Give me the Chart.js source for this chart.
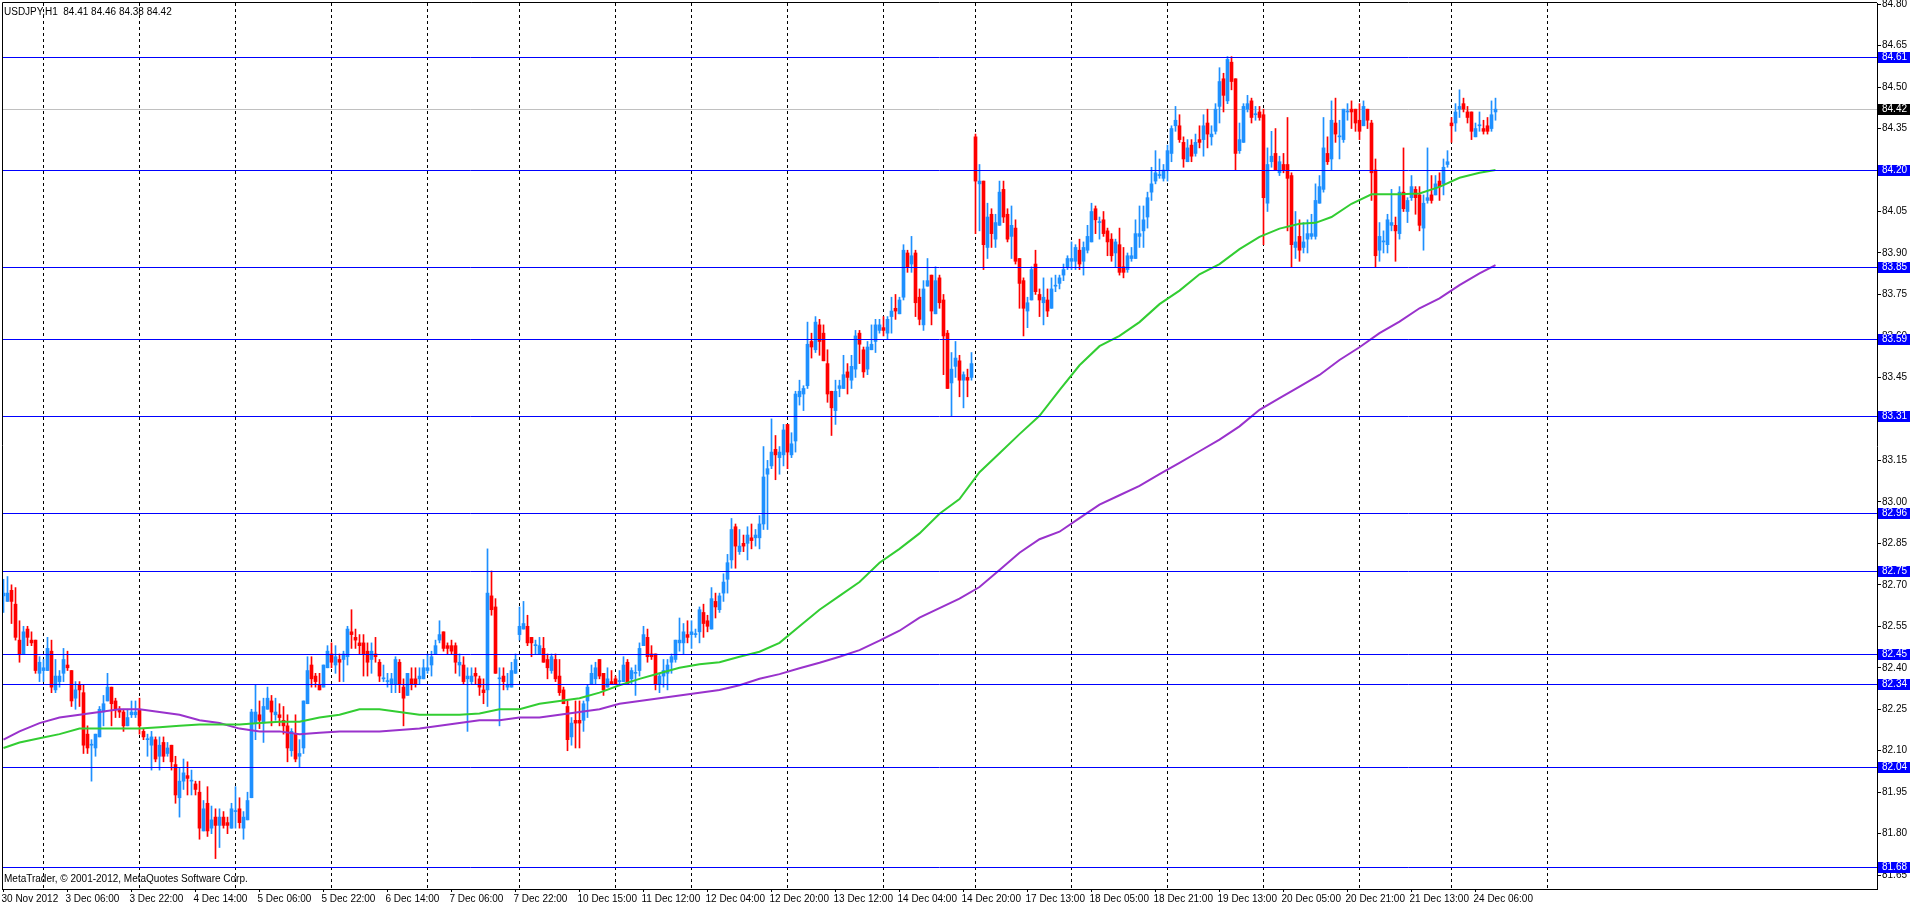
<!DOCTYPE html>
<html>
<head>
<meta charset="utf-8">
<script src="https://cdn.jsdelivr.net/npm/chart.js@4.4.1/dist/chart.umd.min.js"></script>
<style>
html,body{margin:0;padding:0;background:#fff;overflow:hidden}
canvas{display:block}
</style>
</head>
<body>
<canvas id="c" width="1914" height="906" style="width:1914px;height:906px"></canvas>
<script>
// ---------- DATA (USDJPY, H1) ----------
const symbolTitle = "USDJPY,H1  84.41 84.46 84.38 84.42";
const copyrightText = "MetaTrader, \u00A9 2001-2012, MetaQuotes Software Corp.";

const opens = [
82.66,82.64,82.68,82.63,82.50,82.45,82.54,82.50,82.50,82.38,
82.39,82.39,82.46,82.32,82.35,82.38,82.41,82.39,82.29,82.34,
82.31,82.16,82.12,82.11,82.15,82.24,82.28,82.33,82.28,82.25,
82.24,82.19,82.23,82.23,82.25,82.17,82.14,82.12,82.14,82.08,
82.13,82.09,82.12,82.05,81.93,81.99,82.01,81.99,81.98,81.95,
81.81,81.91,81.82,81.86,81.83,81.86,81.84,81.82,81.88,81.89,
81.82,81.85,81.93,82.20,82.23,82.20,82.25,82.28,82.23,82.23,
82.21,82.19,82.10,82.16,82.08,82.11,82.27,82.41,82.37,82.34,
82.33,82.40,82.45,82.41,82.43,82.43,82.44,82.53,82.51,82.49,
82.49,82.46,82.43,82.45,82.42,82.36,82.35,82.34,82.34,82.42,
82.33,82.30,82.36,82.36,82.36,82.36,82.39,82.41,82.45,82.50,
82.53,82.48,82.48,82.48,82.41,82.41,82.36,82.35,82.38,82.36,
82.32,82.32,82.66,82.62,82.36,82.37,82.33,82.33,82.38,82.52,
82.54,82.55,82.51,82.48,82.45,82.47,82.43,82.39,82.43,82.37,
82.32,82.26,82.15,82.21,82.21,82.21,82.28,82.34,82.36,82.43,
82.38,82.33,82.35,82.36,82.35,82.35,82.42,82.36,82.38,82.39,
82.48,82.51,82.45,82.45,82.34,82.37,82.38,82.42,82.43,82.49,
82.49,82.52,82.52,82.52,82.53,82.60,82.57,82.54,82.64,82.61,
82.67,82.72,82.79,82.91,82.82,82.85,82.85,82.87,82.87,82.87,
82.92,83.10,83.13,83.19,83.16,83.17,83.28,83.17,83.22,83.38,
83.39,83.42,83.58,83.55,83.64,83.61,83.50,83.40,83.33,83.41,
83.41,83.47,83.44,83.48,83.61,83.55,83.48,83.55,83.58,83.62,
83.63,83.61,83.67,83.70,83.68,83.74,83.90,83.86,83.90,83.74,
83.64,83.78,83.82,83.68,83.81,83.73,83.61,83.43,83.49,83.51,
83.44,83.45,83.45,84.32,84.15,84.16,83.92,84.04,83.95,84.00,
84.13,84.04,83.96,83.99,83.88,83.80,83.69,83.73,83.86,83.75,
83.72,83.73,83.70,83.78,83.79,83.82,83.85,83.87,83.87,83.91,
83.87,83.91,83.94,84.06,84.01,84.02,83.98,83.95,83.90,83.93,
83.85,83.84,83.88,83.88,83.96,83.98,84.03,84.12,84.16,84.18,
84.17,84.20,84.26,84.36,84.36,84.30,84.23,84.29,84.26,84.31,
84.31,84.37,84.32,84.34,84.43,84.53,84.45,84.59,84.53,84.27,
84.30,84.42,84.45,84.40,84.41,84.40,84.08,84.23,84.26,84.19,
84.22,84.22,84.18,83.92,83.96,83.92,83.95,83.96,83.96,84.08,
84.13,84.26,84.24,84.37,84.32,84.31,84.41,84.42,84.42,84.38,
84.36,84.42,84.37,84.20,83.91,83.94,83.93,84.00,84.00,83.97,
84.12,84.05,84.10,84.13,84.11,83.99,84.09,84.11,84.11,84.16,
84.15,84.22,84.37,84.37,84.42,84.44,84.41,84.41,84.32,84.36,
84.35,84.36,84.35,84.41];

const highs = [
82.72,82.73,82.70,82.69,82.57,82.55,82.55,82.53,82.50,82.44,
82.43,82.51,82.50,82.43,82.39,82.47,82.46,82.39,82.35,82.35,
82.34,82.19,82.14,82.16,82.26,82.30,82.38,82.33,82.29,82.26,
82.25,82.25,82.28,82.28,82.29,82.18,82.16,82.17,82.15,82.15,
82.15,82.13,82.12,82.08,82.04,82.07,82.06,82.03,81.99,81.99,
81.92,81.97,81.90,81.89,81.89,81.88,81.86,81.91,81.97,81.93,
81.88,81.95,82.25,82.34,82.28,82.29,82.33,82.30,82.29,82.27,
82.26,82.23,82.18,82.23,82.14,82.28,82.44,82.44,82.38,82.38,
82.41,82.48,82.49,82.48,82.45,82.46,82.55,82.61,82.54,82.52,
82.52,82.49,82.49,82.51,82.43,82.41,82.38,82.38,82.44,82.43,
82.36,82.38,82.40,82.40,82.40,82.43,82.45,82.46,82.50,82.57,
82.53,82.49,82.50,82.49,82.45,82.44,82.40,82.40,82.40,82.37,
82.36,82.83,82.75,82.65,82.40,82.40,82.38,82.42,82.45,82.62,
82.64,82.59,82.51,82.50,82.51,82.51,82.45,82.45,82.45,82.43,
82.33,82.28,82.22,82.28,82.28,82.28,82.34,82.41,82.42,82.43,
82.38,82.40,82.39,82.37,82.39,82.44,82.43,82.40,82.41,82.49,
82.55,82.54,82.48,82.45,82.38,82.43,82.43,82.45,82.50,82.58,
82.56,82.57,82.57,82.54,82.62,82.63,82.59,82.69,82.67,82.67,
82.74,82.81,82.94,82.92,82.90,82.88,82.91,82.92,82.90,82.95,
83.20,83.15,83.30,83.24,83.20,83.28,83.28,83.25,83.40,83.44,
83.42,83.65,83.61,83.67,83.66,83.64,83.55,83.40,83.44,83.44,
83.53,83.50,83.53,83.62,83.62,83.56,83.58,83.64,83.66,83.66,
83.67,83.67,83.74,83.75,83.74,83.93,83.91,83.96,83.91,83.77,
83.80,83.88,83.82,83.85,83.82,83.75,83.62,83.54,83.58,83.53,
83.47,83.48,83.54,84.33,84.22,84.16,84.08,84.06,84.04,84.16,
84.16,84.06,84.07,84.02,83.88,83.81,83.74,83.85,83.91,83.77,
83.81,83.77,83.81,83.82,83.82,83.86,83.89,83.94,83.93,83.95,
83.94,84.00,84.08,84.07,84.03,84.05,83.99,83.97,83.95,83.99,
83.92,83.90,83.92,84.02,84.07,84.07,84.12,84.21,84.27,84.24,
84.22,84.29,84.36,84.43,84.40,84.32,84.31,84.31,84.33,84.36,
84.40,84.42,84.36,84.44,84.57,84.55,84.61,84.61,84.53,84.37,
84.44,84.47,84.46,84.43,84.43,84.42,84.28,84.34,84.35,84.25,
84.26,84.39,84.19,84.05,84.02,84.01,84.02,84.04,84.15,84.18,
84.39,84.32,84.45,84.46,84.38,84.42,84.44,84.45,84.42,84.44,
84.45,84.42,84.38,84.24,84.01,83.98,84.04,84.13,84.03,84.14,
84.28,84.10,84.18,84.14,84.14,84.11,84.28,84.18,84.18,84.19,
84.24,84.27,84.39,84.44,84.49,84.46,84.43,84.41,84.37,84.41,
84.38,84.39,84.45,84.46];

const lows = [
82.60,82.64,82.56,82.50,82.42,82.45,82.48,82.48,82.38,82.35,
82.35,82.39,82.31,82.31,82.33,82.35,82.39,82.26,82.25,82.26,
82.09,82.09,81.99,82.08,82.15,82.19,82.28,82.19,82.22,82.22,
82.17,82.19,82.22,82.22,82.16,82.14,82.08,82.03,82.06,82.03,
82.06,82.08,82.03,81.91,81.86,81.96,81.94,81.94,81.94,81.78,
81.81,81.79,81.80,81.71,81.75,81.82,81.80,81.82,81.82,81.82,
81.78,81.85,81.93,82.14,82.18,82.13,82.25,82.19,82.21,82.19,
82.16,82.06,82.08,82.06,82.04,82.09,82.27,82.33,82.33,82.32,
82.33,82.40,82.40,82.38,82.35,82.35,82.41,82.47,82.47,82.45,
82.37,82.37,82.38,82.42,82.35,82.35,82.33,82.31,82.31,82.31,
82.19,82.30,82.32,82.33,82.34,82.36,82.38,82.37,82.45,82.49,
82.46,82.45,82.45,82.38,82.37,82.34,82.17,82.34,82.34,82.30,
82.27,82.26,82.59,82.38,82.19,82.32,82.32,82.33,82.38,82.50,
82.54,82.48,82.44,82.45,82.45,82.42,82.36,82.38,82.35,82.30,
82.27,82.10,82.12,82.11,82.11,82.17,82.22,82.34,82.34,82.36,
82.30,82.33,82.34,82.34,82.34,82.35,82.34,82.34,82.30,82.37,
82.48,82.42,82.43,82.32,82.31,82.33,82.32,82.38,82.42,82.46,
82.45,82.49,82.47,82.51,82.49,82.51,82.53,82.54,82.58,82.60,
82.64,82.67,82.76,82.76,82.81,82.82,82.79,82.83,82.84,82.83,
82.90,82.90,83.12,83.08,83.10,83.13,83.12,83.16,83.18,83.35,
83.33,83.41,83.52,83.54,83.53,83.51,83.36,83.24,83.28,83.38,
83.41,83.39,83.41,83.45,83.50,83.45,83.46,83.55,83.54,83.61,
83.60,83.59,83.61,83.66,83.68,83.73,83.83,83.83,83.67,83.64,
83.62,83.78,83.64,83.68,83.70,83.46,83.41,83.31,83.45,83.38,
83.34,83.38,83.44,83.97,83.98,83.84,83.88,83.92,83.92,84.00,
84.01,83.94,83.88,83.86,83.70,83.60,83.63,83.73,83.75,83.67,
83.64,83.67,83.70,83.76,83.77,83.80,83.84,83.84,83.84,83.84,
83.82,83.90,83.94,83.97,83.95,83.96,83.89,83.87,83.85,83.82,
83.81,83.83,83.87,83.88,83.92,83.92,83.99,84.09,84.15,84.17,
84.16,84.16,84.23,84.34,84.30,84.21,84.23,84.23,84.25,84.28,
84.25,84.28,84.29,84.33,84.37,84.41,84.44,84.49,84.20,84.26,
84.30,84.41,84.37,84.38,84.38,83.93,84.05,84.21,84.20,84.18,
84.19,83.98,83.85,83.88,83.87,83.90,83.90,83.95,83.95,84.08,
84.12,84.22,84.20,84.30,84.24,84.30,84.38,84.35,84.34,84.31,
84.36,84.35,84.09,83.85,83.87,83.90,83.90,83.98,83.87,83.95,
84.05,84.01,84.09,84.04,83.98,83.91,84.08,84.08,84.11,84.09,
84.11,84.21,84.30,84.34,84.39,84.41,84.37,84.31,84.32,84.34,
84.33,84.33,84.34,84.38];

const closes = [
82.67,82.67,82.64,82.51,82.45,82.53,82.51,82.49,82.39,82.42,
82.40,82.47,82.33,82.37,82.37,82.43,82.40,82.28,82.32,82.32,
82.12,82.11,82.12,82.16,82.25,82.27,82.33,82.27,82.25,82.24,
82.19,82.22,82.24,82.24,82.19,82.15,82.14,82.15,82.07,82.12,
82.08,82.11,82.06,81.94,81.99,82.02,82.00,81.99,81.96,81.82,
81.89,81.81,81.85,81.83,81.86,81.83,81.83,81.89,81.88,81.84,
81.86,81.92,82.24,82.24,82.21,82.26,82.29,82.24,82.24,82.22,
82.19,82.11,82.17,82.07,82.09,82.28,82.39,82.36,82.35,82.32,
82.41,82.46,82.42,82.44,82.42,82.45,82.54,82.52,82.50,82.48,
82.45,82.42,82.46,82.44,82.37,82.36,82.35,82.36,82.43,82.34,
82.29,82.38,82.34,82.34,82.37,82.40,82.40,82.44,82.48,82.52,
82.47,82.47,82.46,82.42,82.42,82.35,82.37,82.37,82.37,82.33,
82.31,82.67,82.61,82.38,82.36,82.35,82.34,82.39,82.43,82.55,
82.56,82.49,82.49,82.48,82.48,82.42,82.40,82.44,82.36,82.31,
82.27,82.14,82.20,82.20,82.20,82.27,82.33,82.38,82.40,82.37,
82.32,82.36,82.34,82.34,82.35,82.41,82.34,82.39,82.38,82.47,
82.52,82.44,82.44,82.34,82.37,82.39,82.41,82.44,82.50,82.50,
82.53,82.51,82.53,82.52,82.61,82.56,82.55,82.65,82.62,82.66,
82.71,82.78,82.90,82.84,82.84,82.84,82.88,82.86,82.88,82.92,
83.09,83.12,83.18,83.17,83.18,83.26,83.18,83.21,83.39,83.40,
83.41,83.57,83.56,83.65,83.58,83.51,83.39,83.34,83.40,83.42,
83.46,83.45,83.49,83.60,83.57,83.47,83.56,83.57,83.64,83.64,
83.62,83.66,83.69,83.69,83.73,83.91,83.85,83.89,83.72,83.66,
83.77,83.80,83.69,83.80,83.72,83.60,83.41,83.48,83.52,83.44,
83.46,83.44,83.50,84.16,84.16,83.93,84.03,83.97,84.01,84.12,
84.03,83.95,84.00,83.87,83.79,83.70,83.72,83.84,83.76,83.73,
83.74,83.69,83.77,83.78,83.81,83.84,83.88,83.88,83.92,83.86,
83.92,83.96,84.05,84.02,84.01,83.97,83.94,83.89,83.94,83.83,
83.83,83.89,83.89,83.97,83.97,84.02,84.10,84.15,84.19,84.18,
84.20,84.27,84.35,84.38,84.31,84.24,84.28,84.25,84.30,84.30,
84.36,84.33,84.33,84.42,84.52,84.47,84.60,84.52,84.26,84.31,
84.43,84.44,84.39,84.40,84.39,84.10,84.22,84.25,84.20,84.23,
84.20,84.17,83.93,83.94,83.91,83.94,83.97,83.97,84.09,84.14,
84.28,84.23,84.38,84.33,84.32,84.42,84.41,84.41,84.37,84.34,
84.43,84.38,84.19,83.89,83.96,83.94,84.02,84.01,83.98,84.12,
84.06,84.09,84.14,84.10,84.00,84.08,84.10,84.09,84.15,84.14,
84.21,84.23,84.36,84.41,84.43,84.42,84.39,84.34,84.35,84.36,
84.34,84.34,84.40,84.42];

// Moving averages (bar index -> value)
const maGreenBars = [0,4,9,14,19,24,29,34,39,44,49,54,59,64,69,74,79,84,89,94,99,104,109,114,119,124,129,134,139,144,149,154,159,164,169,174,179,184,189,194,199,204,209,214,219,224,229,234,239,244,249,254,259,264,269,274,279,284,289,294,299,304,309,314,319,324,328,332,337,342,349,354,359,364,369,373];
const maGreenVals = [82.11,82.13,82.145,82.16,82.18,82.18,82.18,82.18,82.185,82.19,82.195,82.195,82.195,82.20,82.205,82.205,82.22,82.23,82.25,82.25,82.24,82.23,82.23,82.23,82.235,82.25,82.25,82.27,82.28,82.29,82.31,82.337,82.36,82.38,82.40,82.413,82.42,82.44,82.458,82.49,82.55,82.61,82.66,82.71,82.78,82.83,82.886,82.957,83.01,83.107,83.176,83.245,83.311,83.404,83.494,83.563,83.60,83.65,83.715,83.764,83.823,83.86,83.914,83.958,83.988,84.006,84.009,84.03,84.078,84.112,84.112,84.115,84.139,84.172,84.19,84.20];

const maPurpleBars = [0,4,9,14,19,24,29,34,39,44,49,54,59,64,69,74,79,84,89,94,99,104,109,114,119,124,129,134,139,144,149,154,159,164,169,174,179,184,189,194,199,204,209,214,219,224,229,234,239,244,249,254,259,264,269,274,279,284,289,294,299,304,309,314,319,324,329,334,339,344,349,354,359,364,369,373];
const maPurpleVals = [82.14,82.17,82.20,82.22,82.23,82.24,82.25,82.25,82.24,82.23,82.21,82.20,82.18,82.17,82.17,82.16,82.165,82.17,82.17,82.17,82.175,82.18,82.19,82.20,82.21,82.21,82.22,82.22,82.23,82.24,82.25,82.27,82.28,82.29,82.30,82.31,82.32,82.337,82.36,82.377,82.398,82.418,82.44,82.464,82.498,82.534,82.581,82.616,82.65,82.692,82.754,82.816,82.865,82.892,82.941,82.99,83.024,83.058,83.10,83.141,83.183,83.225,83.273,83.333,83.375,83.417,83.459,83.513,83.559,83.61,83.652,83.70,83.736,83.784,83.826,83.856];

// horizontal support / resistance levels and last price
const levels = [84.61, 84.20, 83.85, 83.59, 83.31, 82.96, 82.75, 82.45, 82.34, 82.04, 81.68];
const lastPrice = 84.42;

// axis tick labels
const priceTicks = [84.80,84.65,84.50,84.35,84.20,84.05,83.90,83.75,83.60,83.45,83.30,83.15,83.00,82.85,82.70,82.55,82.40,82.25,82.10,81.95,81.80,81.65];
const timeLabels = ["30 Nov 2012","3 Dec 06:00","3 Dec 22:00","4 Dec 14:00","5 Dec 06:00","5 Dec 22:00","6 Dec 14:00","7 Dec 06:00","7 Dec 22:00","10 Dec 15:00","11 Dec 12:00","12 Dec 04:00","12 Dec 20:00","13 Dec 12:00","14 Dec 04:00","14 Dec 20:00","17 Dec 13:00","18 Dec 05:00","18 Dec 21:00","19 Dec 13:00","20 Dec 05:00","20 Dec 21:00","21 Dec 13:00","24 Dec 06:00"];
const timeLabelStep = 16;
// vertical dotted grid (bar index positions)
const gridBars = [10,34,58,82,106,129,153,172,196,220,243,267,291,315,339,362,386];

// ---------- CHART ----------
const FONT = "'Liberation Sans', Arial, sans-serif";
Chart.defaults.font.family = FONT;
Chart.defaults.font.size = 10;
Chart.defaults.color = '#000';

const UP = '#1E90FF', DOWN = '#FF0000';
const isUp = i => closes[i] >= opens[i];
const candleColor = ctx => isUp(ctx.dataIndex) ? UP : DOWN;

const wickData = opens.map((o, i) => ({x: i, y: [lows[i], highs[i]]}));
const bodyData = opens.map((o, i) => ({x: i, y: [o, closes[i]]}));
const toPts = (bars, vals) => bars.map((b, k) => ({x: b, y: vals[k]}));

const mtPlugin = {
  id: 'mt4look',
  beforeDraw(chart) {
    const c = chart.ctx;
    c.save(); c.fillStyle = '#fff'; c.fillRect(0, 0, chart.width, chart.height); c.restore();
  },
  beforeDatasetsDraw(chart) {
    const {ctx, chartArea: a, scales: {x, y}} = chart;
    ctx.save();
    ctx.lineWidth = 1;
    ctx.strokeStyle = '#000';
    ctx.setLineDash([3, 3]);
    gridBars.forEach(b => {
      const px = Math.round(x.getPixelForValue(b) - 0.5) + 0.5;
      ctx.beginPath(); ctx.moveTo(px, a.top); ctx.lineTo(px, a.bottom); ctx.stroke();
    });
    ctx.setLineDash([]);
    const py = Math.round(y.getPixelForValue(lastPrice)) + 0.5;
    ctx.strokeStyle = '#C0C0C0';
    ctx.beginPath(); ctx.moveTo(a.left, py); ctx.lineTo(a.right, py); ctx.stroke();
    ctx.restore();
  },
  afterDatasetsDraw(chart) {
    const {ctx, chartArea: a, scales: {y}} = chart;
    ctx.save();
    ctx.lineWidth = 1;
    ctx.strokeStyle = '#0000FF';
    levels.forEach(v => {
      const py = Math.round(y.getPixelForValue(v)) + 0.5;
      ctx.beginPath(); ctx.moveTo(a.left, py); ctx.lineTo(a.right, py); ctx.stroke();
    });
    ctx.strokeStyle = '#000';
    ctx.beginPath();
    ctx.moveTo(a.left + 0.5, a.bottom); ctx.lineTo(a.left + 0.5, a.top - 0.5); ctx.lineTo(a.right, a.top - 0.5);
    ctx.stroke();
    ctx.restore();
  },
  afterDraw(chart) {
    const {ctx, chartArea: a, scales: {y}} = chart;
    ctx.save();
    ctx.font = '10px ' + FONT;
    ctx.textBaseline = 'middle';
    ctx.textAlign = 'left';
    const box = (v, bg) => {
      const py = Math.round(y.getPixelForValue(v));
      ctx.fillStyle = bg;
      ctx.fillRect(a.right + 1, py - 5, 32, 11);
      ctx.fillStyle = '#fff';
      ctx.fillText(v.toFixed(2), a.right + 5, py + 0.5);
    };
    levels.forEach(v => box(v, '#0000FF'));
    box(lastPrice, '#000');
    ctx.fillStyle = '#000';
    ctx.fillText(symbolTitle, 4, 12);
    ctx.fillText(copyrightText, 4, 879);
    ctx.restore();
  }
};

new Chart(document.getElementById('c'), {
  type: 'bar',
  data: {
    datasets: [
      {type: 'bar', data: wickData, backgroundColor: candleColor, borderWidth: 0,
       grouped: false, barPercentage: 1, categoryPercentage: 1, maxBarThickness: 1, minBarLength: 1, order: 4},
      {type: 'bar', data: bodyData, backgroundColor: candleColor, borderWidth: 0,
       grouped: false, barPercentage: 1, categoryPercentage: 1, maxBarThickness: 3, minBarLength: 1, order: 3},
      {type: 'line', data: toPts(maPurpleBars, maPurpleVals), borderColor: '#9932CC', borderWidth: 2,
       pointRadius: 0, tension: 0, order: 1},
      {type: 'line', data: toPts(maGreenBars, maGreenVals), borderColor: '#32CD32', borderWidth: 2,
       pointRadius: 0, tension: 0, order: 0}
    ]
  },
  options: {
    responsive: false,
    animation: false,
    devicePixelRatio: 1,
    events: [],
    layout: {padding: {left: 2, top: 3, right: 0, bottom: 0}},
    plugins: {legend: {display: false}, tooltip: {enabled: false}},
    scales: {
      x: {
        type: 'linear', position: 'bottom', min: -0.375, max: 468.375, offset: false,
        grid: {display: true, drawOnChartArea: false, drawTicks: true, tickLength: 3, color: '#000', offset: false},
        border: {display: true, color: '#000'},
        ticks: {autoSkip: false, maxRotation: 0, minRotation: 0, align: 'start', padding: 1, labelOffset: -2,
                font: {size: 10, family: FONT},
                callback: (v, idx) => timeLabels[idx] !== undefined ? timeLabels[idx] : ''},
        afterBuildTicks: s => { s.ticks = timeLabels.map((t, k) => ({value: k * timeLabelStep})); },
        afterFit: s => { s.height = 17; s.paddingLeft = 0; s.paddingRight = 0; }
      },
      y: {
        type: 'linear', position: 'right', min: 81.600, max: 84.804,
        grid: {display: true, drawOnChartArea: false, drawTicks: true, tickLength: 4, color: '#000'},
        border: {display: true, color: '#000'},
        ticks: {autoSkip: false, padding: 1, font: {size: 10, family: FONT}, callback: v => Number(v).toFixed(2)},
        afterBuildTicks: s => { s.ticks = priceTicks.map(v => ({value: v})); },
        afterFit: s => { s.width = 37; s.paddingTop = 0; s.paddingBottom = 0; }
      }
    }
  },
  plugins: [mtPlugin]
});
</script>
</body>
</html>
